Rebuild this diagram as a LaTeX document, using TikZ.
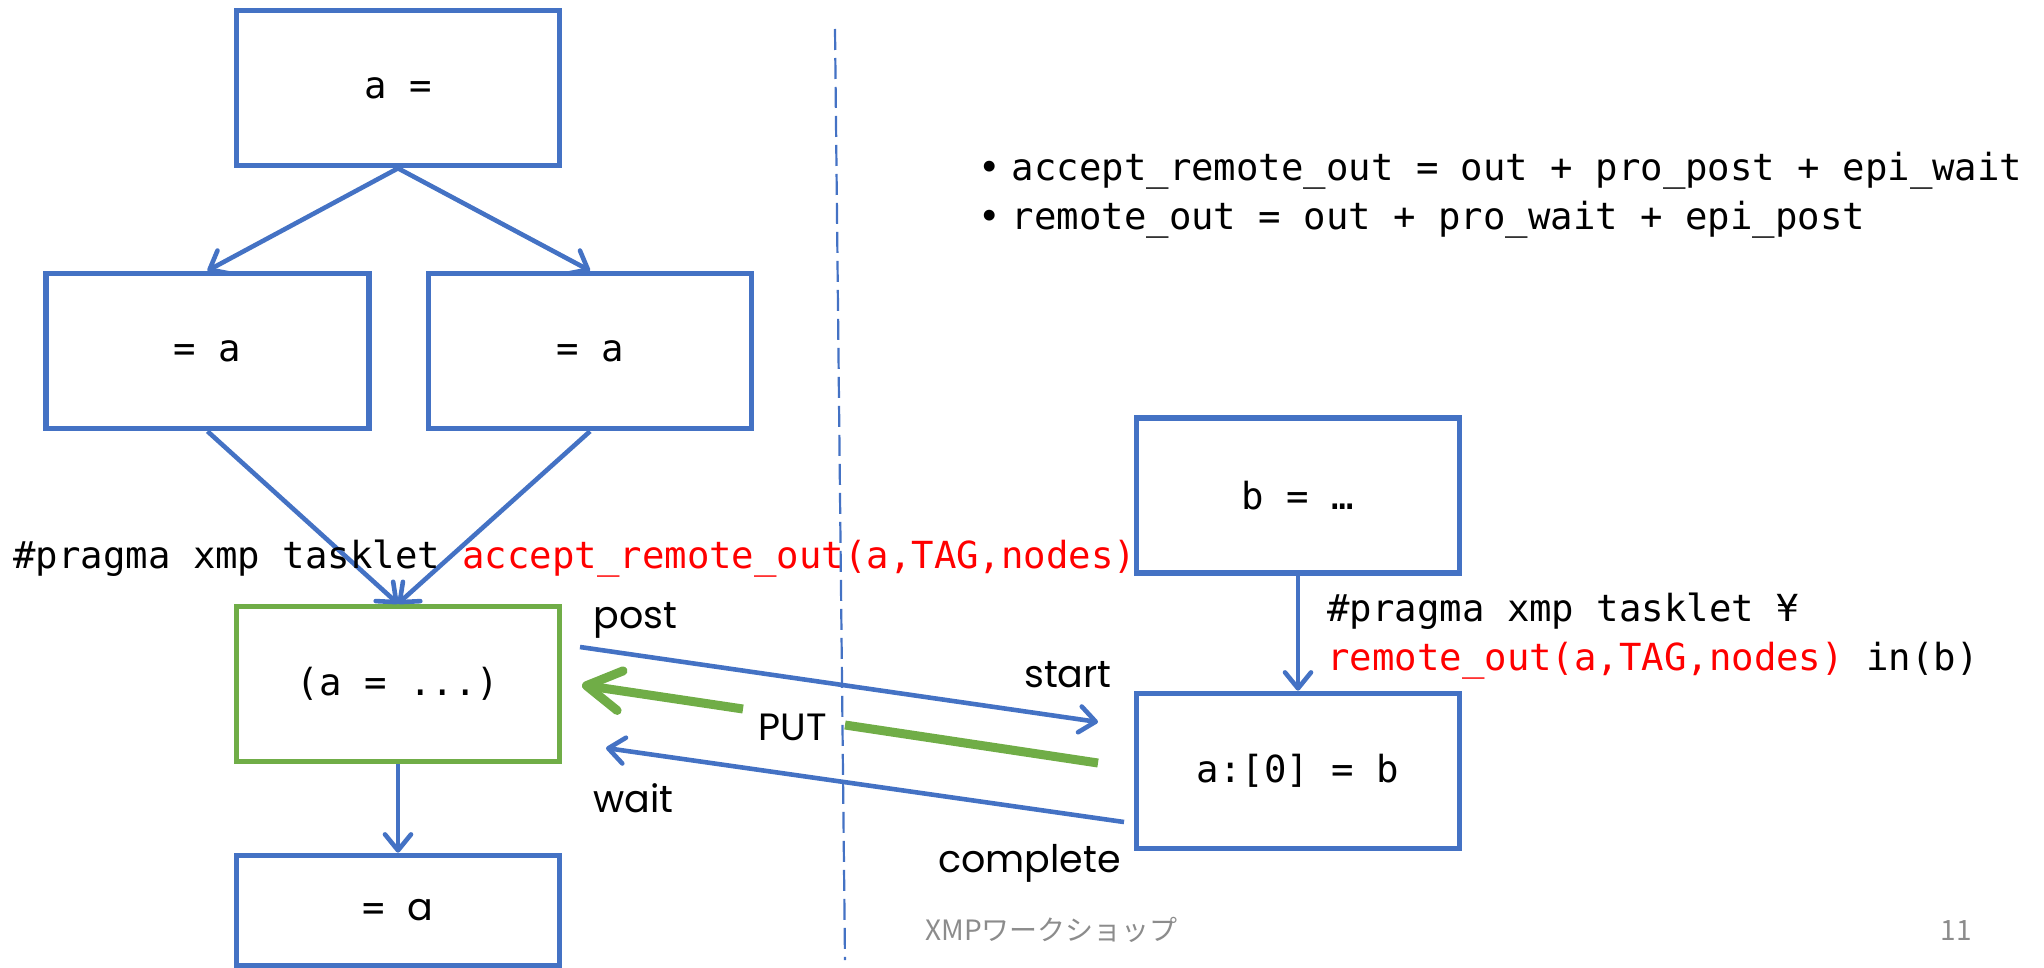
\documentclass[tikz,border=0pt]{standalone}
\usepackage{fontspec}
\setmainfont{Poppins}
\newfontfamily\codefont{DejaVu Sans Mono}
\newfontfamily\jpfont{Noto Sans CJK JP}
\usetikzlibrary{arrows.meta}

\definecolor{boxblue}{HTML}{4472C4}
\definecolor{boxgreen}{HTML}{70AD47}
\definecolor{codered}{HTML}{FF0000}
\definecolor{footgray}{HTML}{8C8C8C}

\newcommand{\codesize}{\codefont\fontsize{18.65}{22}\selectfont}
\newcommand{\hl}[1]{\textcolor{codered}{#1}}

\begin{document}
\begin{tikzpicture}[x=0.5pt,y=-0.5pt,
  codebox/.style={draw=boxblue, line width=2.8pt, minimum width=161.5pt,
    minimum height=77.5pt, inner sep=0pt, font=\codesize},
  taskbox/.style={codebox, draw=boxgreen},
  flow/.style={draw=boxblue, line width=2.3pt,
    -{Straight Barb[length=8pt,width=13pt,round]}},
  putarrow/.style={draw=boxgreen, line width=4.5pt},
  codetext/.style={font=\codesize, inner sep=0pt},
  lbl/.style={font=\fontsize{19}{23}\selectfont, inner sep=0pt},
  foot/.style={font=\jpfont\fontsize{14}{17}\selectfont, text=footgray, inner sep=0pt},
  divider/.style={draw=boxblue, line width=1.1pt, dash pattern=on 10.5pt off 4pt},
]
\useasboundingbox (0,0) rectangle (2044,968);

% tasks of the first process
\node[codebox] (top)   at (398,88)    {a =};
\node[codebox] (readL) at (207.5,351) {= a};
\node[codebox] (readR) at (590,351)   {= a};
\node[taskbox] (acc)   at (398,684)   {(a = ...)};
\node[codebox, minimum height=55pt] (last) at (398,910.5)
  {= {\fontsize{19}{23}\selectfont\rmfamily a}};

% tasks of the second process
\node[codebox] (bdef) at (1298,495.5) {b = …};
\node[codebox] (put0) at (1298,771)   {a:[0] = b};

% dependencies
\draw[flow] (top.south)   -- (readL.north);
\draw[flow] (top.south)   -- (readR.north);
\draw[flow] (readL.south) -- (acc.north);
\draw[flow] (readR.south) -- (acc.north);
\draw[flow] (acc.south)   -- (last.north);
\draw[flow] (bdef.south)  -- (put0.north);

% tasklet directives
\node[codetext, anchor=base west] (prag1) at (13,568)
  {\#pragma xmp tasklet \hl{accept\_remote\_out(a,TAG,nodes)}};
\node[codetext, anchor=base west] (prag2) at (1327,621)
  {\#pragma xmp tasklet ¥};
\node[codetext, anchor=base west] (prag3) at (1327,670)
  {\hl{remote\_out(a,TAG,nodes)} in(b)};

% notes
\node[codetext, anchor=base west] (note1) at (978,181)
  {•\hspace{5.5pt}accept\_remote\_out = out + pro\_post + epi\_wait};
\node[codetext, anchor=base west] (note2) at (978,230)
  {•\hspace{5.5pt}remote\_out = out + pro\_wait + epi\_post};

% communication between the two tasks
\coordinate (postS) at (580,647);
\coordinate (postE) at (1098,722);
\coordinate (waitS) at (1124,822);
\coordinate (waitE) at (606,748);
\coordinate (putS)  at (1098,763);
\coordinate (putR)  at (845,725);
\coordinate (putL)  at (743,709);
\coordinate (putE)  at (582,685);

\draw[flow] (postS) -- (postE);
\draw[flow] (waitS) -- (waitE);
\draw[putarrow] (putS) -- (putR);
\draw[putarrow, -{Straight Barb[length=17pt,width=20pt,round]}] (putL) -- (putE);

\node[lbl, anchor=base west] (lpost)  at (593,628)  {post};
\node[lbl, anchor=base east] (lstart) at (1112,687) {start};
\node[lbl, anchor=base]      (lput)   at (793,740)  {PUT};
\node[lbl, anchor=base west] (lwait)  at (593,812)  {wait};
\node[lbl, anchor=base east] (lcomp)  at (1121,872) {complete};

% boundary between the two processes
\coordinate (dtop) at (835,29);
\coordinate (dbot) at (845,960);
\draw[divider] (dtop) -- (dbot);

% footer
\node[foot, anchor=base west] (ftitle) at (925,940) {XMPワークショップ};
\node[foot, anchor=base east] (fpage)  at (1972,940) {11};
\end{tikzpicture}
\end{document}
